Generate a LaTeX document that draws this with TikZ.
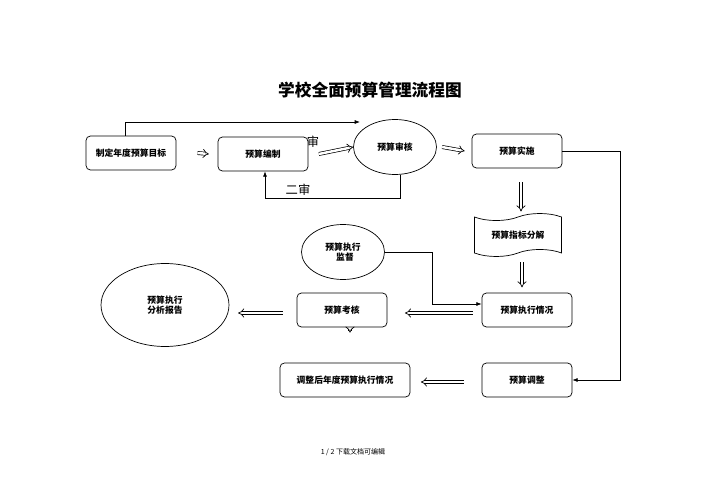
\documentclass[tikz,border=0pt]{standalone}
\usepackage{fontspec}
\setmainfont{Noto Sans CJK SC}
\usetikzlibrary{shapes.geometric,shapes.symbols,arrows.meta}

\begin{document}
\begin{tikzpicture}[x=0.02cm, y=-0.02cm, font=\fontsize{5}{6}\selectfont\bfseries,
        box/.style = {draw, rounded corners=2.5pt, minimum width=1.8cm, minimum height=0.68cm, align=center},
        oval/.style = {draw, ellipse, minimum width=1.66cm, minimum height=1.1cm, align=center},
        dbl/.style = {draw, double, double distance=1.4pt, -{Implies}},
        line/.style = {draw, -{Latex[length=3pt]}}]
        \useasboundingbox (0,0) rectangle (707,500);

        \node[font=\fontsize{9.5}{11}\selectfont\bfseries] (title) at (370,90) {学校全面预算管理流程图};

        \node[box] (goal) at (131,153) {制定年度预算目标};
        \node[box] (plan) at (263,154) {预算编制};
        \node[oval] (check) at (395,147) {预算审核};
        \node[box] (run) at (517,151) {预算实施};
        \node[draw, tape, tape bend height=4pt, minimum width=1.74cm, minimum height=0.86cm] (split) at (518,235) {预算指标分解};
        \node[box] (exec) at (527,310) {预算执行情况};
        \node[oval] (watch) at (343,252) {预算执行\\\ \ 监督};
        \node[box] (eval) at (342,310) {预算考核};
        \node[oval, minimum width=2.56cm, minimum height=1.66cm] (report) at (165,305) {预算执行\\分析报告};
        \node[box, minimum width=2.6cm] (after) at (345,380) {调整后年度预算执行情况};
        \node[box] (adjust) at (527,380) {预算调整};

        \node[font=\fontsize{7}{8}\selectfont] (one) at (313,142) {审};
        \node[font=\fontsize{7}{8}\selectfont] (two) at (298,190) {二审};

        \draw[line] (goal.north -| 125,0) |- (360,122);
        \draw[dbl] ([xshift=12pt]goal.east) -- ([xshift=-5pt]plan.west);
        \draw[dbl] ([xshift=6pt]plan.east) -- (check.west);
        \draw[dbl] ([xshift=3pt]check.east) -- ([xshift=-4pt]run.west);
        \draw[line] (check.south -| 400,0) |- (265,198) -- (plan.south -| 265,0);
        \draw[line] (run.east) -- (620,151) |- (adjust.east);
        \draw[dbl] ([yshift=-8pt]run.south -| 521,0) -- ([yshift=3pt]split.north -| 521,0);
        \draw[dbl] ([yshift=-5pt]split.south -| 522,0) -- ([yshift=3pt]exec.north -| 522,0);
        \draw[line] (watch.east) -- (432,252) |- (exec.west |- 0,304);
        \draw[dbl] ([xshift=-5pt]exec.west |- 0,313) -- ([xshift=10pt]eval.east |- 0,313);
        \draw[dbl] ([xshift=-8pt]eval.west |- 0,313) -- ([xshift=5pt]report.east |- 0,313);
        \draw[dbl] ([yshift=18pt]after.north -| 350,0) -- ([yshift=-3pt]eval.south -| 350,0);
        \draw[dbl] ([xshift=-10pt]adjust.west |- 0,382) -- ([xshift=6pt]after.east |- 0,382);

        \node[font=\fontsize{4}{5}\selectfont\mdseries] (foot) at (353,452) {1 / 2 下载文档可编辑};
\end{tikzpicture}
\end{document}
